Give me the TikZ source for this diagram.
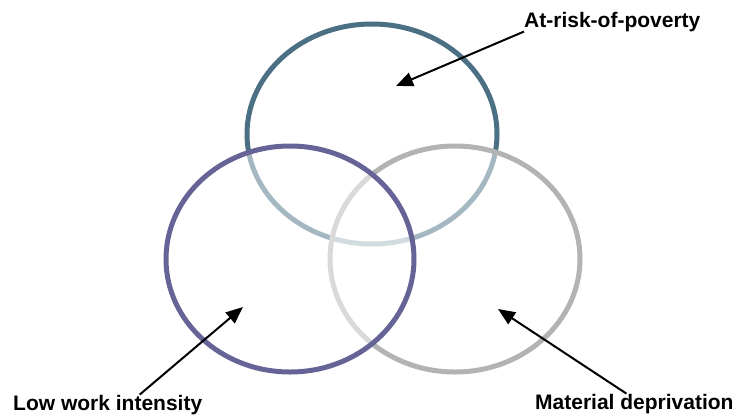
\documentclass[tikz,border=0pt]{standalone}
\usepackage{fontspec}
\setmainfont{Liberation Sans}
\usetikzlibrary{arrows.meta}
\definecolor{povcol}{HTML}{4B6F83}
\definecolor{lowcol}{HTML}{666496}
\definecolor{matcol}{HTML}{B3B3B3}
\tikzset{
  ring/.style={line width=5pt, fill=white, fill opacity=0.5},
  lbl/.style={inner sep=0pt, anchor=base west, font=\bfseries\fontsize{21}{24}\selectfont},
  pointer/.style={-{Triangle[length=17pt,width=14pt]}, line width=2pt}
}
\begin{document}
\begin{tikzpicture}[x=1pt,y=-1pt]
	\useasboundingbox (0,0) rectangle (736,416);
	% the three sets, top first, left last
	\draw[ring,draw=povcol] (372,134) ellipse (125pt and 110pt);
	\draw[ring,draw=matcol] (455,259) ellipse (125pt and 113pt);
	\draw[ring,draw=lowcol] (290,259) ellipse (124pt and 113pt);
	% labels
	\node[lbl] (pov) at (524,27) {At-risk-of-poverty};
	\node[lbl] (low) at (13,410) {Low work intensity};
	\node[lbl] (mat) at (535,409) {Material deprivation};
	\coordinate (povtip) at (396,86);
	\coordinate (lowtip) at (243,307);
	\coordinate (mattip) at (498,309);
	\draw[pointer] (pov.south west) -- (povtip);
	\draw[pointer] ([xshift=32pt]low.north) -- (lowtip);
	\draw[pointer] ([xshift=-8pt]mat.north) -- (mattip);
\end{tikzpicture}
\end{document}
